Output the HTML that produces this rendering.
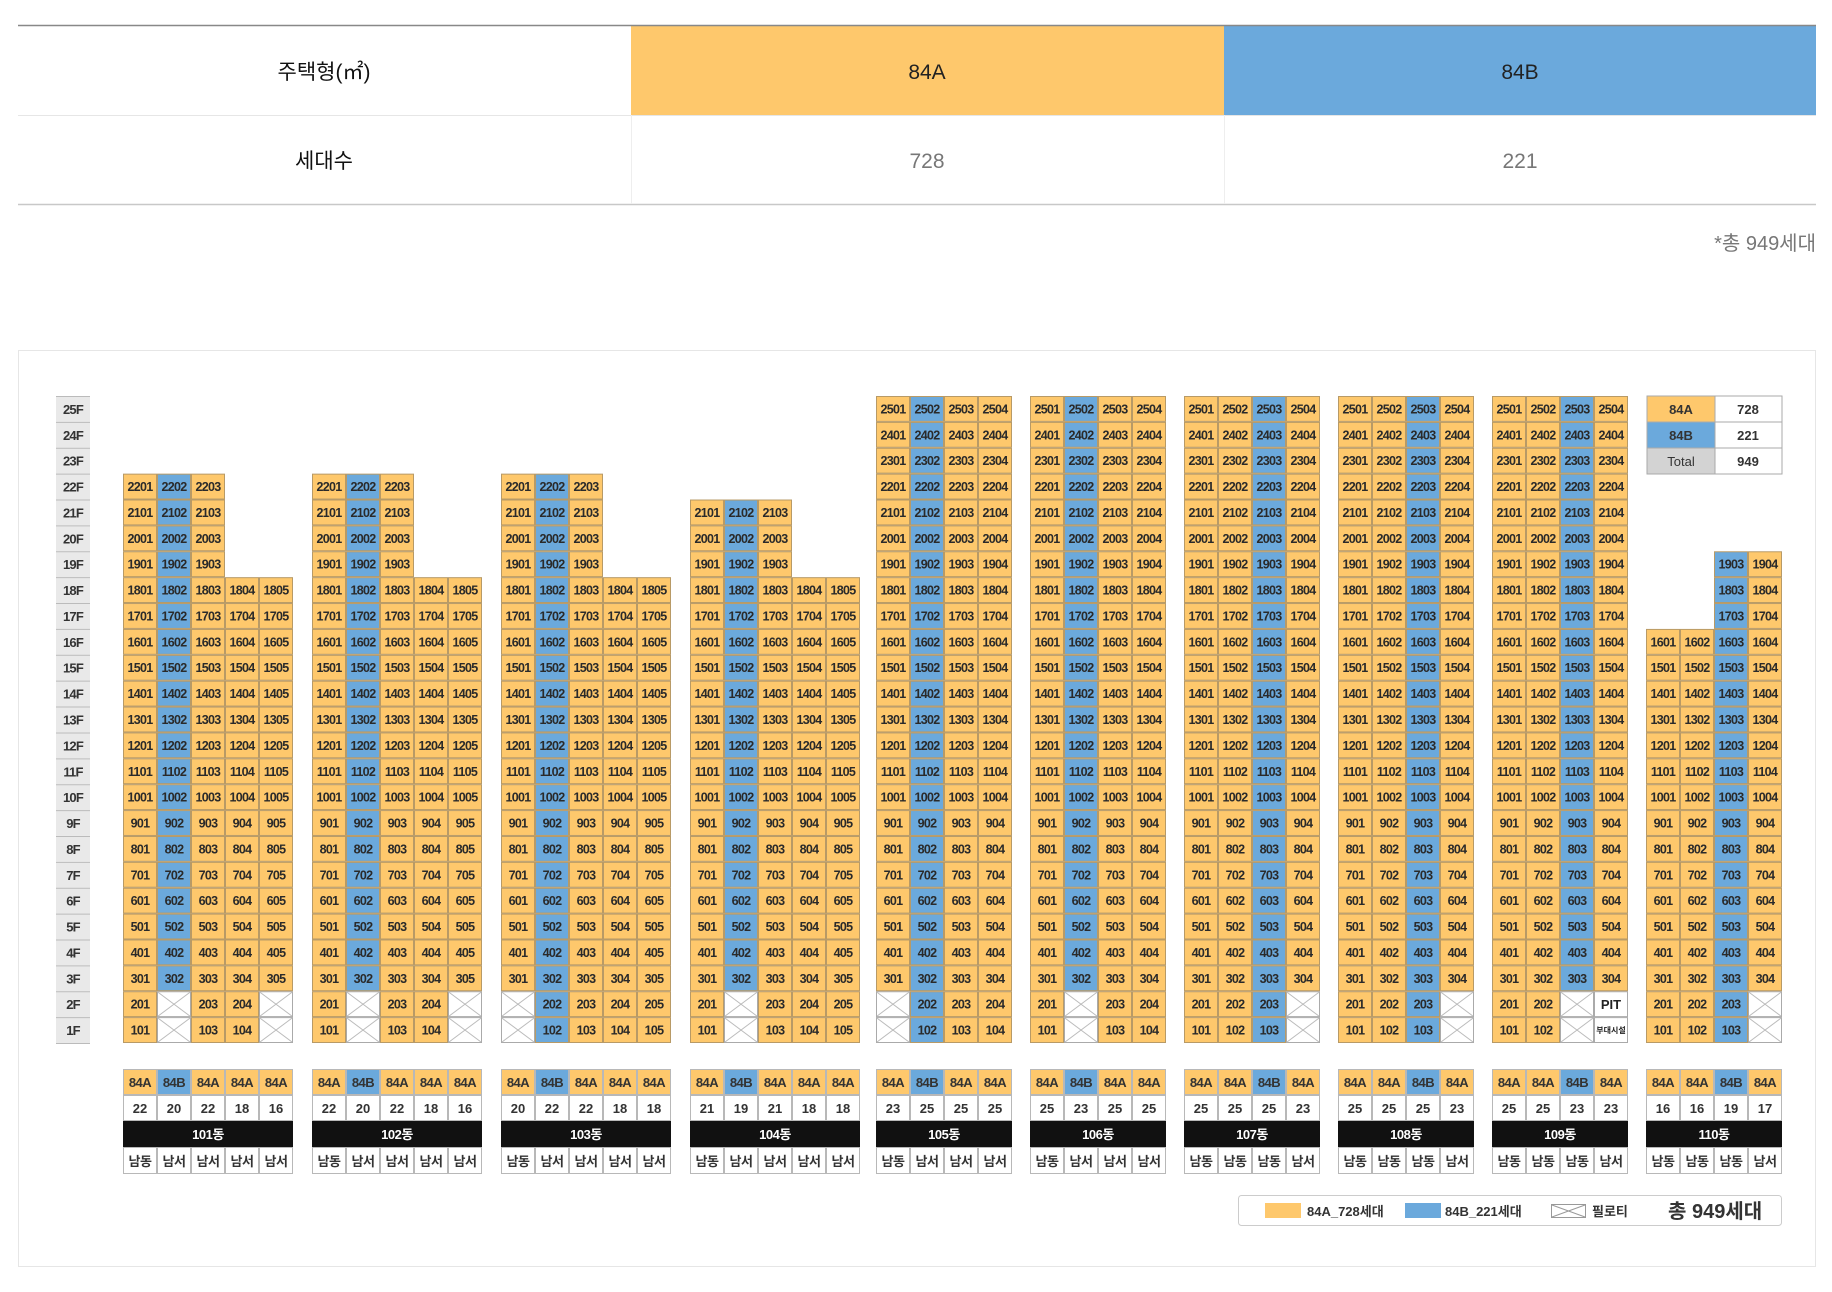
<!DOCTYPE html>
<html><head><meta charset="utf-8">
<style>
html,body{margin:0;padding:0;background:#fff;}
body{width:1832px;height:1287px;position:relative;overflow:hidden;font-family:"Liberation Sans","Noto Sans CJK KR",sans-serif;}
svg text{font-family:"Liberation Sans","Noto Sans CJK KR",sans-serif;}
</style></head>
<body>
<svg id="chart" width="1832" height="1287" viewBox="0 0 1832 1287" xmlns="http://www.w3.org/2000/svg">
  <!-- top summary table -->
  <g>
    <rect x="631" y="26" width="593" height="89" fill="#FEC86C"/>
    <rect x="1224" y="26" width="592" height="89" fill="#6BA9DC"/>
    <line x1="18" y1="25.5" x2="1816" y2="25.5" stroke="#888" stroke-width="1.5"/>
    <line x1="18" y1="115.5" x2="1816" y2="115.5" stroke="#e6e6e6" stroke-width="1"/>
    <line x1="18" y1="204.5" x2="1816" y2="204.5" stroke="#c8c8c8" stroke-width="1.5"/>
    <line x1="631.5" y1="115" x2="631.5" y2="204" stroke="#eee"/>
    <line x1="1224.5" y1="115" x2="1224.5" y2="204" stroke="#eee"/>
    <text x="324" y="79" font-size="21" text-anchor="middle" fill="#111">주택형(㎡)</text>
    <text x="927" y="79" font-size="21" text-anchor="middle" fill="#222">84A</text>
    <text x="1520" y="79" font-size="21" text-anchor="middle" fill="#222">84B</text>
    <text x="324" y="168" font-size="21" text-anchor="middle" fill="#111">세대수</text>
    <text x="927" y="168" font-size="21" text-anchor="middle" fill="#777">728</text>
    <text x="1520" y="168" font-size="21" text-anchor="middle" fill="#777">221</text>
    <text x="1816" y="250" font-size="20" text-anchor="end" fill="#777">*총 949세대</text>
  </g>
  <rect x="18.5" y="350.5" width="1797" height="916" fill="none" stroke="#e6e6e6"/>
  <g id="floors"></g>
  <g id="blds"></g>
  <g>
    <rect x="1647" y="396" width="68" height="26" fill="#FEC86C" stroke="#aaa"/>
    <rect x="1715" y="396" width="67" height="26" fill="#fff" stroke="#aaa"/>
    <rect x="1647" y="422" width="68" height="26" fill="#6BA9DC" stroke="#aaa"/>
    <rect x="1715" y="422" width="67" height="26" fill="#fff" stroke="#aaa"/>
    <rect x="1647" y="448" width="68" height="26" fill="#d3d3d3" stroke="#aaa"/>
    <rect x="1715" y="448" width="67" height="26" fill="#fff" stroke="#aaa"/>
    <g font-size="13" font-weight="bold" fill="#333" text-anchor="middle">
      <text x="1681" y="414">84A</text><text x="1748" y="414">728</text>
      <text x="1681" y="440">84B</text><text x="1748" y="440">221</text>
      <text x="1681" y="466" font-weight="normal">Total</text><text x="1748" y="466">949</text>
    </g>
  </g>
  <g>
    <rect x="1238.5" y="1195.5" width="543" height="30" rx="3" fill="#fff" stroke="#ccc"/>
    <rect x="1265" y="1203" width="36" height="15" fill="#FEC86C"/>
    <text x="1307" y="1216" font-size="13" font-weight="bold" fill="#333">84A_728세대</text>
    <rect x="1405" y="1203" width="36" height="15" fill="#6BA9DC"/>
    <text x="1445" y="1216" font-size="13" font-weight="bold" fill="#333">84B_221세대</text>
    <g>
      <rect x="1551.5" y="1204.5" width="34" height="13" fill="#fff" stroke="#999"/>
      <line x1="1552" y1="1205" x2="1585" y2="1217" stroke="#999"/><line x1="1552" y1="1217" x2="1585" y2="1205" stroke="#999"/>
    </g>
    <text x="1592" y="1216" font-size="13" font-weight="bold" fill="#333">필로티</text>
    <text x="1668" y="1218" font-size="20" font-weight="bold" fill="#333">총 949세대</text>
  </g>
</svg>
<script>
// ---- data ----
const buildingNames = ['101동','102동','103동','104동','105동','106동','107동','108동','109동','110동'];
const buildingX = [123,312,501,690,876,1030,1184,1338,1492,1646];
const colTypes = [
  ['A','B','A','A','A'],['A','B','A','A','A'],['A','B','A','A','A'],['A','B','A','A','A'],
  ['A','B','A','A'],['A','B','A','A'],['A','A','B','A'],['A','A','B','A'],['A','A','B','A'],['A','A','B','A']
];
const colBottom = [
  [1,3,1,1,3],[1,3,1,1,3],[3,1,1,1,1],[1,3,1,1,1],
  [3,1,1,1],[1,3,1,1],[1,1,1,3],[1,1,1,3],[1,1,3,3],[1,1,1,3]
];
const colTop = [
  [22,22,22,18,18],[22,22,22,18,18],[22,22,22,18,18],[21,21,21,18,18],
  [25,25,25,25],[25,25,25,25],[25,25,25,25],[25,25,25,25],[25,25,25,25],[16,16,19,19]
];
const colFacing = [
  ['남동','남서','남서','남서','남서'],['남동','남서','남서','남서','남서'],['남동','남서','남서','남서','남서'],['남동','남서','남서','남서','남서'],
  ['남동','남서','남서','남서'],['남동','남서','남서','남서'],['남동','남동','남동','남서'],['남동','남동','남동','남서'],['남동','남동','남동','남서'],['남동','남동','남동','남서']
];
const floorLabels = ['25F','24F','23F','22F','21F','20F','19F','18F','17F','16F','15F','14F','13F','12F','11F','10F','9F','8F','7F','6F','5F','4F','3F','2F','1F'];
// special non-pilotis empty cells: [building, column, floor, label]
const specialCells = [[8,3,2,'PIT'],[8,3,1,'부대시설']];

// ---- geometry ----
const NS='http://www.w3.org/2000/svg';
const TOPY=396, RH=(1043-396)/25, CW=34;
const fy = f => TOPY + (25 - f) * RH;
const COL = {A:'#FEC86C', B:'#6BA9DC'};
function mk(tag, attrs, parent){const e=document.createElementNS(NS,tag);for(const k in attrs)e.setAttribute(k,attrs[k]);parent.appendChild(e);return e;}

const fg=document.getElementById('floors');


floorLabels.forEach((lb,i)=>{
  const f=25-i;
  const r=mk('rect',{x:56,y:fy(f),width:34,height:RH,fill:'#e9e9e9'},fg);
  mk('line',{x1:56,x2:90,y1:fy(f)+0.5,y2:fy(f)+0.5,stroke:'#bbb'},fg);
  const t=mk('text',{x:73,y:fy(f)+RH/2+5,'font-size':13,'font-weight':'bold','text-anchor':'middle',fill:'#333','letter-spacing':'-0.8'},fg);
  t.textContent=lb;
  
  
});
mk('line',{x1:56,x2:90,y1:1043.5,y2:1043.5,stroke:'#bbb'},fg);

const bg=document.getElementById('blds');
buildingNames.forEach((name,b)=>{
  const g=mk('g',{},bg);
  
  
  const x0=buildingX[b], n=colTypes[b].length;
  for(let c=0;c<n;c++){
    const x=x0+c*CW, t=colTypes[b][c];
    for(let f=1;f<=colTop[b][c];f++){
      const y=fy(f);
      const sp=specialCells.find(s=>s[0]===b&&s[1]===c&&s[2]===f);
      if(f<colBottom[b][c]){
        const r=mk('rect',{x:x+0.5,y:y+0.5,width:CW-1,height:RH-1,fill:'#fff',stroke:'#aaa'},g);
        if(sp){
          
          
          const tx=mk('text',{x:x+CW/2,y:y+RH/2+(sp[3]==='PIT'?5:3),'font-size':sp[3]==='PIT'?13:8,'font-weight':'bold','text-anchor':'middle',fill:'#222'},g);
          tx.textContent=sp[3];
        } else {
          
          
          mk('line',{x1:x+1,y1:y+1,x2:x+CW-1,y2:y+RH-1,stroke:'#bbb'},g);
          mk('line',{x1:x+1,y1:y+RH-1,x2:x+CW-1,y2:y+1,stroke:'#bbb'},g);
        }
        continue;
      }
      const r=mk('rect',{x:x+0.5,y:y+0.5,width:CW-1,height:RH-1,fill:COL[t],stroke:'#b89a66'},g);
      
      
      const tx=mk('text',{x:x+CW/2,y:y+RH/2+4.5,'font-size':12.5,'font-weight':'bold','text-anchor':'middle',fill:'#2a2a2a','letter-spacing':'-0.7'},g);
      tx.textContent=String(f*100+c+1);
    }
    // bottom info rows
    const r1=mk('rect',{x:x+0.5,y:1069.5,width:CW-1,height:25,fill:COL[t],stroke:'#b8b8b8'},g);
    
    
    const t1=mk('text',{x:x+CW/2,y:1087,'font-size':13,'font-weight':'bold','text-anchor':'middle',fill:'#333','letter-spacing':'-0.5'},g);
    t1.textContent='84'+t;
    const r2=mk('rect',{x:x+0.5,y:1095.5,width:CW-1,height:25,fill:'#fff',stroke:'#b8b8b8'},g);
    
    
    const t2=mk('text',{x:x+CW/2,y:1113,'font-size':13,'font-weight':'bold','text-anchor':'middle',fill:'#333'},g);
    t2.textContent=String(colTop[b][c]-colBottom[b][c]+1);
    const r4=mk('rect',{x:x+0.5,y:1147.5,width:CW-1,height:26,fill:'#fff',stroke:'#b8b8b8'},g);
    
    
    const t4=mk('text',{x:x+CW/2,y:1166,'font-size':13,'font-weight':'bold','text-anchor':'middle',fill:'#333','letter-spacing':'-0.5'},g);
    t4.textContent=colFacing[b][c];
  }
  const nb=mk('rect',{x:x0,y:1121,width:n*CW,height:26,fill:'#111'},g);
  
  
  const nt=mk('text',{x:x0+n*CW/2,y:1139,'font-size':13,'font-weight':'bold','text-anchor':'middle',fill:'#fff','letter-spacing':'-0.5'},g);
  nt.textContent=name;
});
</script>
</body></html>
